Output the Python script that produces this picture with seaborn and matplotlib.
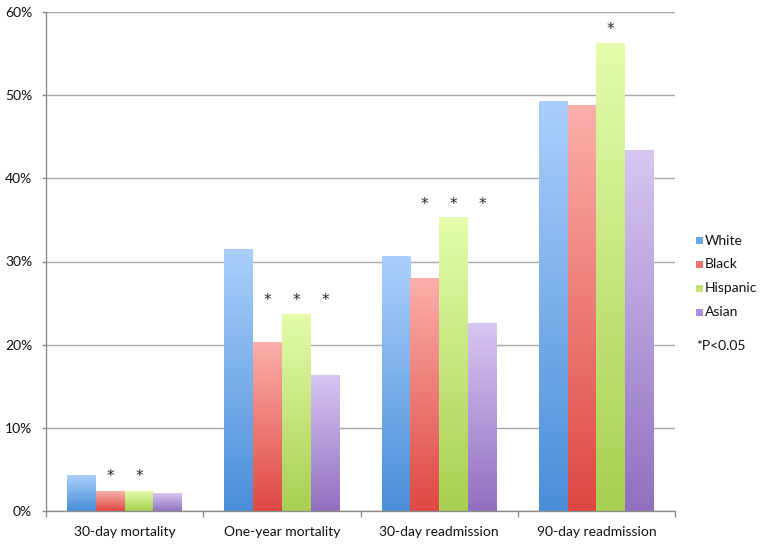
import numpy as np
import pandas as pd
import matplotlib
matplotlib.use("Agg")
import matplotlib.pyplot as plt
import seaborn as sns
from matplotlib.colors import LinearSegmentedColormap
from matplotlib.patches import Rectangle
from matplotlib.ticker import FuncFormatter, FixedLocator

# ---- data ----
categories = ["30-day mortality", "One-year mortality", "30-day readmission", "90-day readmission"]
groups = ["White", "Black", "Hispanic", "Asian"]
white = [4.3, 31.5, 30.6, 49.2]
black = [2.3, 20.3, 27.9, 48.7]
hispanic = [2.4, 23.6, 35.3, 56.2]
asian = [2.1, 16.3, 22.6, 43.3]
sig_white = [False, False, False, False]
sig_black = [True, True, True, False]
sig_hispanic = [True, True, True, True]
sig_asian = [False, True, True, False]
star_level = [4.2, 25.3, 36.9, 57.9]
yticks = [0, 10, 20, 30, 40, 50, 60]
note = "*P<0.05"

# gradient colours (top, bottom) per group
grad_top = ["#abcffb", "#fbafab", "#e4fcab", "#d7c6f2"]
grad_bot = ["#4a8ed8", "#de4842", "#a8cf52", "#9170bf"]
legend_col = ["#6aa6ea", "#ee7470", "#c4e47a", "#ad90d8"]

values = [white, black, hispanic, asian]
sigs = [sig_white, sig_black, sig_hispanic, sig_asian]
rows = []
for g, vals in zip(groups, values):
    for c, v in zip(categories, vals):
        rows.append({"category": c, "group": g, "value": v})
df = pd.DataFrame(rows)

sns.set_style("white")
plt.rcParams["font.family"] = ["Lato", "DejaVu Sans"]

fig = plt.figure(figsize=(7.62, 5.49), dpi=100)
ax = fig.add_axes([46 / 762, 1 - 511 / 549, (675 - 46) / 762, (511 - 12) / 549])

sns.barplot(data=df, x="category", y="value", hue="group", order=categories,
            hue_order=groups, palette=legend_col, width=0.73, gap=0,
            legend=False, ax=ax, zorder=2)

# gradient fill per bar
grad = np.linspace(0, 1, 256).reshape(-1, 1)
for gi, cont in enumerate(ax.containers):
    cmap = LinearSegmentedColormap.from_list("g%d" % gi, [grad_bot[gi], grad_top[gi]])
    for bar in cont:
        x0 = bar.get_x(); w = bar.get_width(); h = bar.get_height()
        bar.set_facecolor("none"); bar.set_edgecolor("none")
        ax.imshow(grad, extent=[x0, x0 + w, 0, h], origin="lower", cmap=cmap,
                  aspect="auto", zorder=2, interpolation="bilinear")
    # significance stars
    for ci, bar in enumerate(cont):
        if sigs[gi][ci]:
            ax.text(bar.get_x() + bar.get_width() / 2, star_level[ci], "*",
                    ha="center", va="center", fontsize=11, color="#222222",
                    family="DejaVu Sans", zorder=3)

ax.set_xlim(-0.5, 3.5)
ax.set_ylim(0, 60)
ax.set_yticks(yticks)
ax.yaxis.set_major_formatter(FuncFormatter(lambda v, p: "%d%%" % v))
ax.yaxis.grid(True, color="#a6a6a6", linewidth=1.0, zorder=0)
ax.xaxis.grid(False)
ax.set_axisbelow(True)
ax.set_xlabel("")
ax.set_ylabel("")
for s in ["top", "right"]:
    ax.spines[s].set_visible(False)
for s in ["left", "bottom"]:
    ax.spines[s].set_color("#8c8c8c")
    ax.spines[s].set_linewidth(1.0)

ax.tick_params(axis="y", which="major", length=3, width=1, color="#8c8c8c",
               direction="out", pad=7, labelsize=10, labelcolor="#111111", left=True)
ax.tick_params(axis="x", which="major", length=0, pad=11, labelsize=10,
               labelcolor="#111111")
ax.xaxis.set_minor_locator(FixedLocator([-0.5, 0.5, 1.5, 2.5, 3.5]))
ax.tick_params(axis="x", which="minor", length=4, width=1, color="#8c8c8c",
               direction="out", bottom=True)

# legend
leg_y = [240.7, 264.0, 288.5, 312.0]
for g, c, yy in zip(groups, legend_col, leg_y):
    fig.patches.append(Rectangle((696 / 762, 1 - (yy + 3.5) / 549), 7 / 762, 7 / 549,
                                 transform=fig.transFigure, facecolor=c,
                                 edgecolor="none"))
    fig.text(705 / 762, 1 - yy / 549, g, ha="left", va="center", fontsize=10,
             color="#111111")
fig.text(696 / 762, 1 - 346 / 549, note, ha="left", va="center", fontsize=10,
         color="#111111")

fig.savefig("out.png", dpi=100)
